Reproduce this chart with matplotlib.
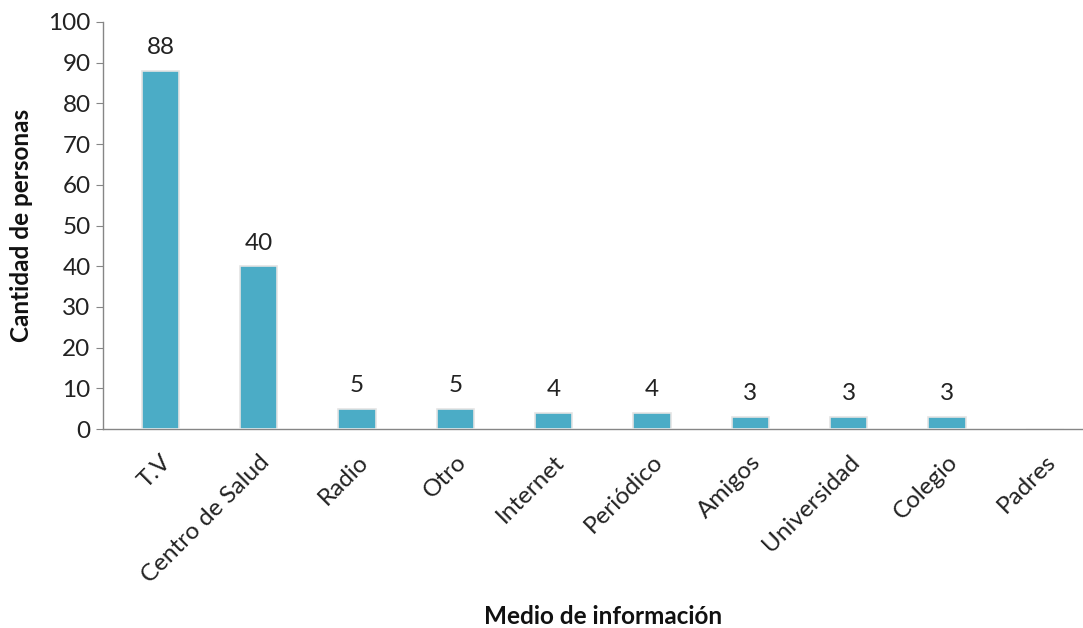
import matplotlib.pyplot as plt

categorias = ['T.V', 'Centro de Salud', 'Radio', 'Otro', 'Internet', 'Periódico',
              'Amigos', 'Universidad', 'Colegio', 'Padres']
personas = [88, 40, 5, 5, 4, 4, 3, 3, 3, 0]

plt.rcParams['font.family'] = ['Lato', 'DejaVu Sans']

fig = plt.figure(figsize=(10.83, 6.28), dpi=100)
ax = fig.add_axes([103 / 1083, 199 / 628, 1 - 103 / 1083, 407 / 628])

x = list(range(len(categorias)))
barras = ax.bar(x, personas, width=0.38, color='#4BACC6',
                edgecolor='#e4e4e4', linewidth=1.2, zorder=3)

for xi, v in zip(x, personas):
  if v > 0:
    ax.annotate(str(v), (xi, v), xytext=(0, 9), textcoords='offset points',
                ha='center', va='bottom', fontsize=17.5, color='#222222')

ax.set_xlim(-0.585, 9.385)
ax.set_ylim(0, 100)
ax.set_yticks(range(0, 101, 10))
ax.set_xticks(x)
ax.set_xticklabels(categorias, rotation=45, ha='right', rotation_mode='anchor',
                   fontsize=17.5, color='#222222')
ax.tick_params(axis='x', length=0, pad=16)
ax.tick_params(axis='y', length=5, color='#868686', labelsize=17.5,
               labelcolor='#222222', pad=4)

for s in ['top', 'right']:
  ax.spines[s].set_visible(False)
for s in ['left', 'bottom']:
  ax.spines[s].set_color('#868686')
  ax.spines[s].set_linewidth(1)

fig.text(22 / 1083, 1 - 225 / 628, 'Cantidad de personas', rotation=90,
         ha='center', va='center', fontsize=17.5, fontweight='bold', color='#111111')
fig.text(603 / 1083, 1 - 616 / 628, 'Medio de información',
         ha='center', va='center', fontsize=17.5, fontweight='bold', color='#111111')

fig.savefig('out.png', dpi=100)
